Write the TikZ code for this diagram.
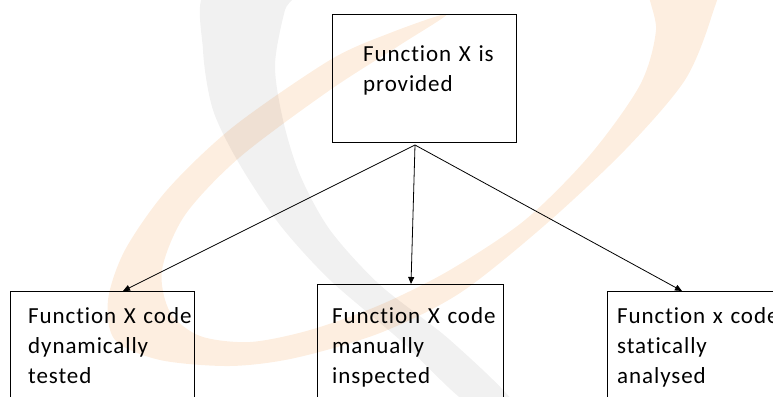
\documentclass[tikz,border=0pt]{standalone}
\usepackage{fontspec}
\setmainfont{Carlito}[LetterSpace=4, WordSpace=0.5, Ligatures=NoCommon]
\usetikzlibrary{arrows.meta}

\definecolor{wmorange}{RGB}{253,238,224}
\definecolor{wmgray}{RGB}{241,241,241}

\begin{document}
\begin{tikzpicture}[x=1pt, y=-1pt,
  box/.style={draw=black, line width=1.3pt, inner sep=0pt, anchor=north west},
  lbl/.style={anchor=base west, inner sep=0pt, text width=200pt, align=left,
              font=\fontsize{23}{30}\selectfont},
  arr/.style={line width=0.8pt, -{Triangle[length=7pt, width=6pt]}}]

\useasboundingbox (0,0) rectangle (773,396);
\clip (0,0) rectangle (773,396);

% faint logo watermark in the background
\begin{scope}[blend group=multiply]
\fill[wmgray] plot[smooth cycle] coordinates {
  (207,-10) (203,50) (213,110) (240,165) (280,225) (330,280) (400,340) (470,405)
  (515,405) (450,340) (380,285) (330,230) (300,175) (283,120) (275,65) (285,10) (295,-10)};
\fill[wmorange] plot[smooth cycle] coordinates {
  (447,14) (390,33) (330,60) (233,127) (167,190) (125,250) (108,300) (115,340)
  (160,360) (230,366) (295,358) (380,333) (460,293) (545,225) (625,150) (685,80)
  (712,15) (716,-20)
  (650,-20) (656,30) (640,85) (590,155) (525,220) (450,270) (380,305) (310,330)
  (250,342) (200,336) (170,312) (162,270) (185,215) (240,157) (330,90) (400,45)};
\end{scope}

% boxes
\node[box, minimum width=184pt, minimum height=128pt] (top) at (332,14) {};
\node[box, minimum width=184pt, minimum height=130pt] (left) at (10,291) {};
\node[box, minimum width=186pt, minimum height=130pt] (mid) at (317,284) {};
\node[box, minimum width=190pt, minimum height=130pt] (right) at (607,291) {};

% box texts
\node[lbl] (toptxt) at (363,61) {Function X is\\provided};
\node[lbl] (lefttxt) at (28,323) {Function X code\\dynamically\\tested};
\node[lbl] (midtxt) at (332,323) {Function X code\\manually\\inspected};
\node[lbl] (righttxt) at (617,323) {Function x code\\statically\\analysed};

% connectors
\coordinate (src) at (415,145);
\draw[arr] (src) -- ([xshift=113pt]left.north west);
\draw[arr] (src) -- ([xshift=94pt]mid.north west);
\draw[arr] (src) -- ([xshift=75pt]right.north west);
\end{tikzpicture}
\end{document}
